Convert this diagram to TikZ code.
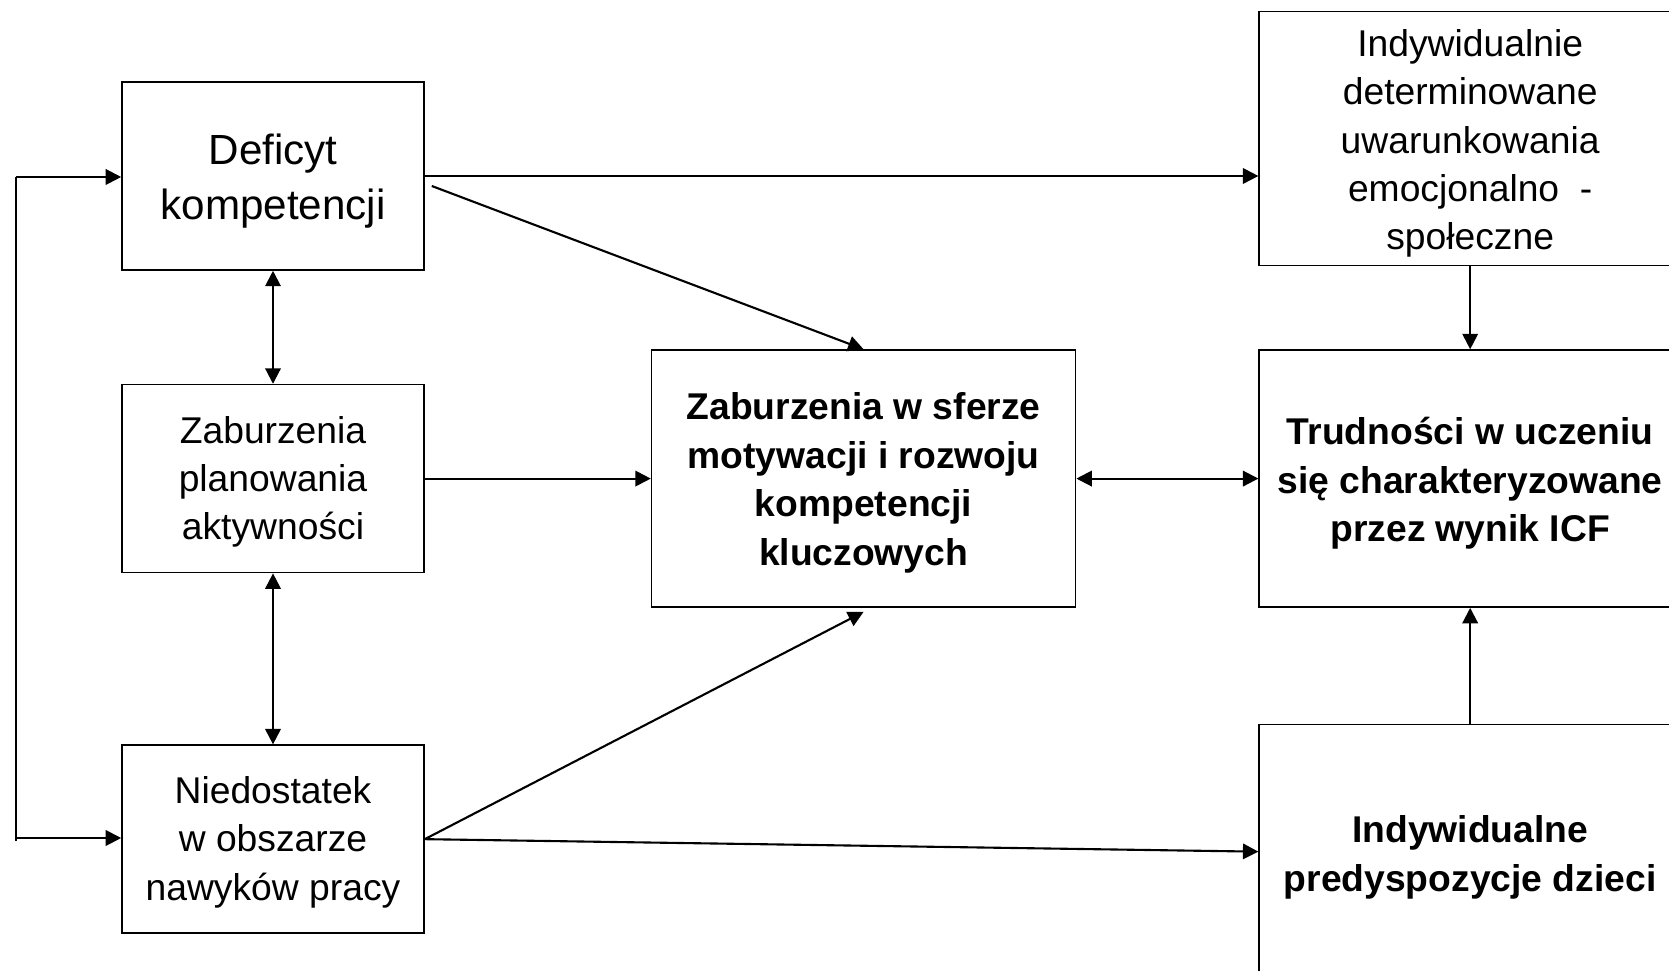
\documentclass[tikz,border=0pt]{standalone}
\usepackage{fontspec}
\setmainfont{Liberation Sans}
\usetikzlibrary{positioning,arrows.meta}
\newcommand\topgap[1]{\rule{0pt}{#1}}

\begin{document}
\begin{tikzpicture}[->,
					>={Triangle[length=4.4pt,width=4.4pt]},
					%shorten >=1pt,
					line width=0.6pt,
					node distance=1.2cm,
					box/.style={rectangle,draw,line width=0.45pt,align=center,inner sep=0pt,
						minimum width=3.02cm,minimum height=1.88cm,
						font=\fontsize{10.6pt}{13.7pt}\selectfont},
					big box/.style={box,font=\fontsize{12pt}{15.6pt}\selectfont},
					bold box/.style={box,minimum width=4.24cm,minimum height=2.57cm,
						font=\fontsize{10.6pt}{13.8pt}\selectfont\bfseries},
					side box/.style={box,minimum width=4.22cm,minimum height=2.57cm}]

  \useasboundingbox (0,0) rectangle (16.69,-9.71);

  \node[big box] (A) at (2.73,-1.76) {\topgap{11.8pt}Deficyt\\kompetencji};
  \node[box] (B) [below=1.13cm of A] {\topgap{9.5pt}Zaburzenia\\planowania\\aktywności};
  \node[box] (C) [below=1.71cm of B] {\topgap{9.5pt}Niedostatek\\w obszarze\\nawyków pracy};
  \node[bold box] (M) [right=2.26cm of B]
    {\topgap{10.1pt}Zaburzenia w sferze\\motywacji i rozwoju\\kompetencji\\kluczowych};
  \node[side box,font=\fontsize{10.6pt}{13.8pt}\selectfont\bfseries] (R2) [right=1.82cm of M]
    {\topgap{10.5pt}Trudności w uczeniu\\się charakteryzowane\\przez wynik ICF};
  \node[side box,minimum height=2.54cm] (R1) [above=0.83cm of R2]
    {\topgap{10.5pt}Indywidualnie\\determinowane\\uwarunkowania\\emocjonalno~~-\\społeczne};
  \node[side box,minimum height=2.66cm,font=\fontsize{10.6pt}{14pt}\selectfont\bfseries] (R3) [below=1.16cm of R2]
    {Indywidualne\\predyspozycje dzieci};

  \coordinate (T) at (0.16,-1.77);
  \coordinate (U) at (0.16,-8.38);

  \path
    (A.east) edge (A.east -| R1.west)
    ([xshift=0.07cm,yshift=-0.1cm]A.east) edge (M.north)
    (A.south) edge[<->] (B.north)
    (B.south) edge[<->] (C.north)
    (B.east) edge (M.west)
    (M.east) edge[<->] (R2.west)
    (C.east) edge ([yshift=-0.04cm]M.south)
    (C.east) edge ([yshift=0.06cm]R3.west)
    (R1.south) edge (R2.north)
    (R3.north) edge (R2.south)
    (T) edge (T -| A.west)
    (U) edge (U -| C.west);
  \draw[-] ([yshift=-0.03cm]U) -- (T);
\end{tikzpicture}
\end{document}
